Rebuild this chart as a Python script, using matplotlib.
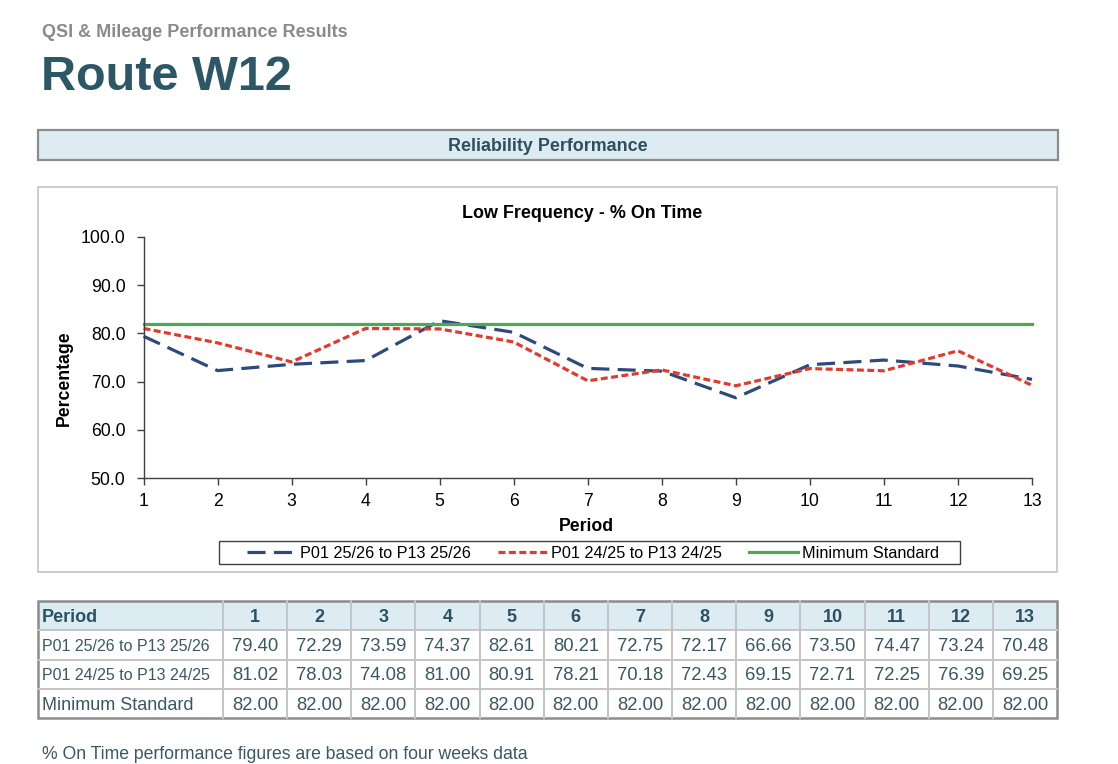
import matplotlib
matplotlib.use("Agg")
import matplotlib.pyplot as plt
from matplotlib.patches import Rectangle

plt.rcParams['font.family'] = ['Liberation Sans', 'DejaVu Sans']
plt.rcParams['lines.scale_dashes'] = False

# data
periods = list(range(1, 14))
series_names = ["P01 25/26 to P13 25/26", "P01 24/25 to P13 24/25", "Minimum Standard"]
this_year = [79.40, 72.29, 73.59, 74.37, 82.61, 80.21, 72.75, 72.17, 66.66, 73.50, 74.47, 73.24, 70.48]
last_year = [81.02, 78.03, 74.08, 81.00, 80.91, 78.21, 70.18, 72.43, 69.15, 72.71, 72.25, 76.39, 69.25]
min_std = [82.00, 82.00, 82.00, 82.00, 82.00, 82.00, 82.00, 82.00, 82.00, 82.00, 82.00, 82.00, 82.00]
y_ticks = [50, 60, 70, 80, 90, 100]

W, H = 1118, 764
TEAL = "#2C5766"
TEXT_TEAL = "#3A5864"
HEAD_FILL = "#DDEBF2"
BLUE = "#2D4A7A"
RED = "#E23B2E"
GREEN = "#4DAA50"

fig = plt.figure(figsize=(W / 100, H / 100), dpi=100)

# background axes in pixel coordinates for page furniture
bg = fig.add_axes([0, 0, 1, 1], zorder=0)
bg.set_xlim(0, W)
bg.set_ylim(H, 0)
bg.axis("off")

bg.text(42, 32.5, "QSI & Mileage Performance Results", fontsize=13, fontweight="bold",
        color="#8A8A8A", va="center", ha="left")
bg.text(41, 90, "Route W12", fontsize=35, fontweight="bold", color=TEAL,
        va="baseline", ha="left")

# banner
bg.add_patch(Rectangle((38, 130), 1020, 30, facecolor=HEAD_FILL, edgecolor="#8C8C8C", lw=1.6))
bg.text(548, 146.5, "Reliability Performance", fontsize=12.9, fontweight="bold",
        color="#2E4F5E", ha="center", va="center")

# chart frame
bg.add_patch(Rectangle((38, 187), 1019, 385, facecolor="white", edgecolor="#C4C4C4", lw=1.2))
bg.text(582, 213.5, "Low Frequency - % On Time", fontsize=12.9, fontweight="bold",
        color="black", ha="center", va="center")
bg.text(64, 378, "Percentage", fontsize=12.7, fontweight="bold", rotation=90,
        ha="center", va="center")
bg.text(586, 526.5, "Period", fontsize=12.7, fontweight="bold", ha="center", va="center")

# legend frame
bg.add_patch(Rectangle((219, 541), 741, 22.5, facecolor="white", edgecolor="#404040", lw=1.0))

# line chart
left, right, top, bottom = 143.5, 1032, 236.7, 478.3
ax = fig.add_axes([left / W, 1 - bottom / H, (right - left) / W, (bottom - top) / H], zorder=1)
ax.set_facecolor("none")
ax.plot(periods, this_year, color=BLUE, lw=2.3, dashes=(13, 6), label=series_names[0],
        clip_on=False)
ax.plot(periods, last_year, color=RED, lw=2.3, dashes=(5, 2.5), label=series_names[1],
        clip_on=False)
ax.plot(periods, min_std, color=GREEN, lw=2.3, label=series_names[2], clip_on=False)
ax.set_xlim(1, 13)
ax.set_ylim(50, 100)
ax.set_xticks(periods)
ax.set_yticks(y_ticks)
ax.set_yticklabels([f"{v:.1f}" for v in y_ticks])
for s in ["top", "right"]:
    ax.spines[s].set_visible(False)
for s in ["left", "bottom"]:
    ax.spines[s].set_color("#404040")
    ax.spines[s].set_linewidth(1.0)
ax.tick_params(axis="both", direction="out", length=5, width=1.0, color="#404040",
               labelsize=12.7, labelcolor="black")
ax.tick_params(axis="y", pad=8)
ax.tick_params(axis="x", pad=5.5)

leg = ax.legend(loc="center", bbox_to_anchor=(593 / W, 1 - 553.5 / H),
                bbox_transform=fig.transFigure, ncol=3, frameon=False, fontsize=11.7,
                handlelength=3.0, handletextpad=0.25, columnspacing=1.7)

# table
col0_l, col0_r = 38, 223
col_w = (1057 - col0_r) / 13
row_y = [601, 630, 659.5, 689, 718]
bg.add_patch(Rectangle((col0_l, row_y[0]), 1057 - col0_l, row_y[1] - row_y[0],
                       facecolor=HEAD_FILL, edgecolor="none"))
for y in row_y[1:-1]:
    bg.plot([col0_l, 1057], [y, y], color="#C4C4C4", lw=1.4)
xs = [col0_r + i * col_w for i in range(13)]
for x in xs:
    bg.plot([x, x], [row_y[0], row_y[-1]], color="#C4C4C4", lw=1.4)
bg.add_patch(Rectangle((col0_l, row_y[0]), 1057 - col0_l, row_y[-1] - row_y[0],
                       facecolor="none", edgecolor="#8C8C8C", lw=1.8))

cy = [(row_y[i] + row_y[i + 1]) / 2 + 1.5 for i in range(4)]
bg.text(42, cy[0], "Period", fontsize=13, fontweight="bold", color="#2B5263",
        ha="left", va="center")
for i, p in enumerate(periods):
    bg.text(col0_r + (i + 0.5) * col_w, cy[0], str(p), fontsize=13, fontweight="bold",
            color="#2B5263", ha="center", va="center")

rows = [this_year, last_year, min_std]
label_sizes = [11.5, 11.5, 13]
for r, (name, vals) in enumerate(zip(series_names, rows)):
    bg.text(42, cy[r + 1], name, fontsize=label_sizes[r], color=TEXT_TEAL,
            ha="left", va="center")
    for i, v in enumerate(vals):
        bg.text(col0_r + (i + 0.5) * col_w, cy[r + 1], f"{v:.2f}", fontsize=13.3,
                color=TEXT_TEAL, ha="center", va="center")

bg.text(42, 759, "% On Time performance figures are based on four weeks data",
        fontsize=12.7, color=TEXT_TEAL, ha="left", va="baseline")

fig.savefig("out.png", dpi=100)
